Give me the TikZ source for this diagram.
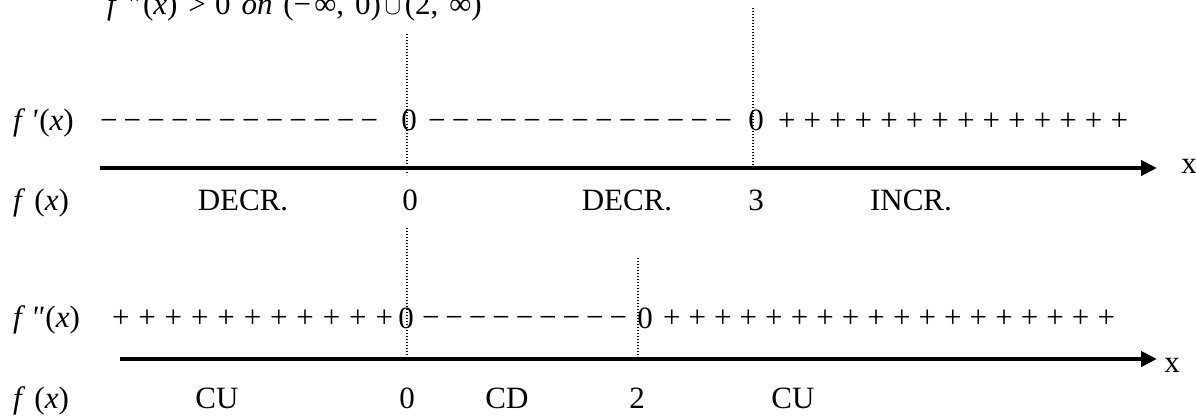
\documentclass[tikz,border=0pt]{standalone}
\usepackage{fontspec}
\setmainfont{Liberation Serif}
\usetikzlibrary{arrows.meta}
\newcommand{\fx}{\textit{f}\hspace{0.3em}(\textit{x})}
\newcommand{\fpx}{\textit{f}\hspace{0.18em}\textit{\textquotesingle}\hspace{0.05em}(\textit{x})}
\newcommand{\fppx}{\textit{f}\hspace{0.18em}\textit{\textquotedbl}\hspace{0.05em}(\textit{x})}
\begin{document}
\begin{tikzpicture}[x=1pt,y=-1pt,
  every node/.style={inner sep=0pt, outer sep=0pt, font=\fontsize{31}{37}\selectfont},
  lbl/.style={anchor=base},
  lblw/.style={anchor=base west},
  axisline/.style={line width=4pt, -{Triangle[length=16pt,width=15pt]}},
  guide/.style={line width=1.1pt, dash pattern=on 1.1pt off 1.9pt}]
\useasboundingbox (0,0) rectangle (1196,415);

% top statement
\node[lblw] (stmt) at (107,14) {\textit{f}\hspace{0.25em}\textit{\textquotedbl}\hspace{0.1em}(\textit{x})\hspace{0.1em} > \hspace{0.05em}0\hspace{0.1em} \textit{on}\hspace{0.1em} (−\hspace{0.1em}∞,\hspace{0.1em} 0)\hspace{0.12em}$\cup$\hspace{0.12em}(2,\hspace{0.1em} ∞)};

% guides of the first chart
\coordinate (g1t) at (407,34);  \coordinate (g1b) at (407,175);
\coordinate (g2t) at (753,8);   \coordinate (g2b) at (753,168);
\draw[guide] (g1t) -- (g1b);
\draw[guide] (g2t) -- (g2b);

% f'(x) row
\node[lblw] (fp) at (13,130) {\fpx};
\node[lblw] (fpa) at (100,130) {\makebox[278pt][s]{− − − − − − − − − − − −}};
\node[lbl] (fpz1) at (409,130) {0};
\node[lblw] (fpb) at (428,130) {\makebox[304pt][s]{− − − − − − − − − − − − −}};
\node[lbl] (fpz2) at (756,130) {0};
\node[lblw] (fpc) at (778,130) {\makebox[350pt][s]{+ + + + + + + + + + + + + +}};

% first axis
\coordinate (a1s) at (100,168); \coordinate (a1e) at (1157,168);
\draw[axisline] (a1s) -- (a1e);
\node[lbl] (x1) at (1189,173) {x};

% f(x) row 1
\node[lblw] (f1) at (13,210) {\fx};
\node[lbl] (d1) at (243,210) {DECR.};
\node[lbl] (z1) at (410,210) {0};
\node[lbl] (d2) at (627,210) {DECR.};
\node[lbl] (t3) at (756,210) {3};
\node[lbl] (i1) at (911,210) {INCR.};

% guides of the second chart
\coordinate (g3t) at (407,228); \coordinate (g3b) at (407,359);
\coordinate (g4t) at (638,258); \coordinate (g4b) at (638,359);
\draw[guide] (g3t) -- (g3b);
\draw[guide] (g4t) -- (g4b);

% f''(x) row
\node[lblw] (fpp) at (13,327) {\fppx};
\node[lblw] (fppa) at (112,327) {\makebox[281pt][s]{+ + + + + + + + + + +}};
\node[lbl] (fppz1) at (406,328) {0};
\node[lblw] (fppb) at (422,327) {\makebox[205pt][s]{− − − − − − − − −}};
\node[lbl] (fppz2) at (645,328) {0};
\node[lblw] (fppc) at (663,327) {\makebox[452pt][s]{+ + + + + + + + + + + + + + + + + +}};

% second axis
\coordinate (a2s) at (120,359); \coordinate (a2e) at (1157,359);
\draw[axisline] (a2s) -- (a2e);
\node[lbl] (x2) at (1172,372) {x};

% f(x) row 2
\node[lblw] (f2) at (13,408) {\fx};
\node[lbl] (c1) at (217,408) {CU};
\node[lbl] (z2) at (407,408) {0};
\node[lbl] (c2) at (507,408) {CD};
\node[lbl] (t2) at (637,408) {2};
\node[lbl] (c3) at (793,408) {CU};
\end{tikzpicture}
\end{document}
